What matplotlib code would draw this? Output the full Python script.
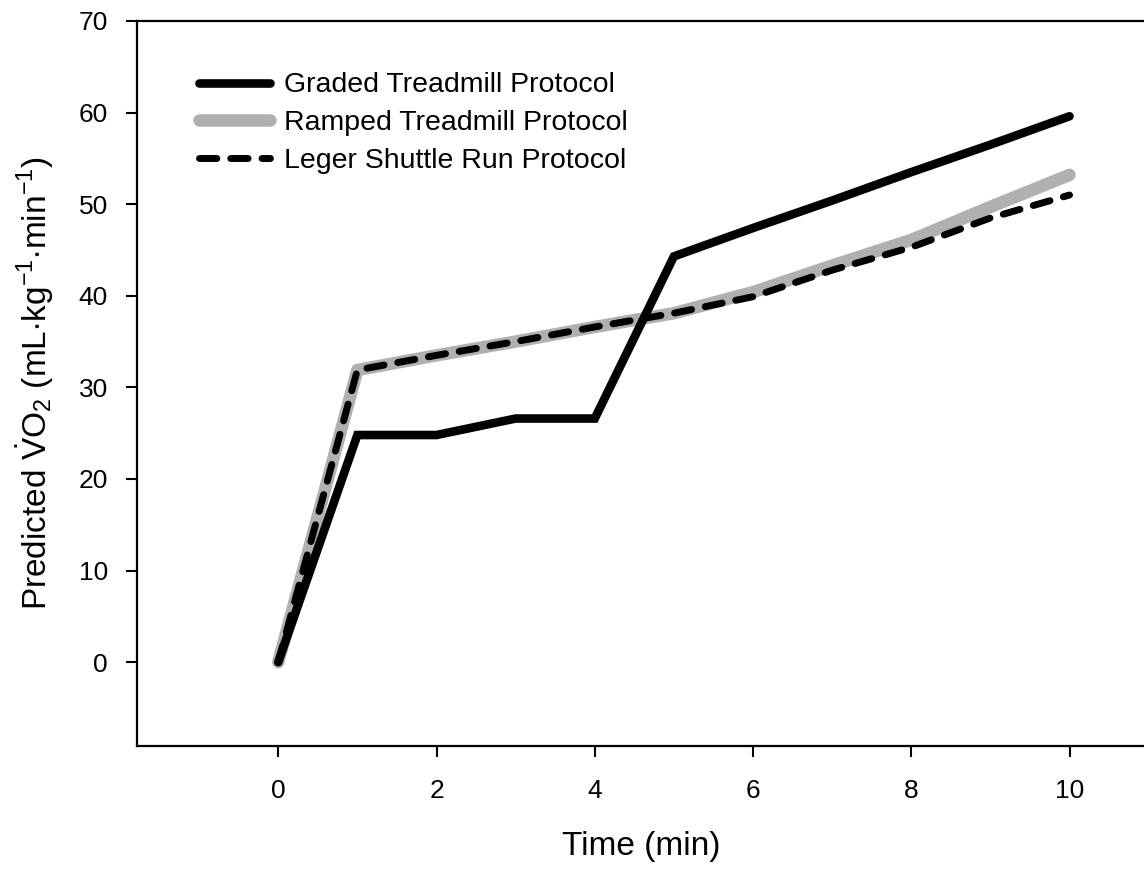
import matplotlib
matplotlib.use("Agg")
import matplotlib.pyplot as plt

plt.rcParams['font.family'] = ['Liberation Sans', 'DejaVu Sans']
plt.rcParams['mathtext.fontset'] = 'custom'
plt.rcParams['mathtext.rm'] = 'Liberation Sans'
plt.rcParams['mathtext.it'] = 'Liberation Sans:italic'

time_min = [0, 1, 2, 3, 4, 5, 6, 7, 8, 9, 10]
graded = [0, 24.8, 24.8, 26.6, 26.6, 44.3, 47.4, 50.4, 53.5, 56.5, 59.6]
ramped = [0, 31.9, 33.5, 35.0, 36.6, 38.1, 40.4, 43.3, 46.1, 49.7, 53.2]
leger = [0, 31.9, 33.5, 35.0, 36.6, 38.1, 39.9, 42.8, 45.3, 48.5, 51.0]

xticks = [0, 2, 4, 6, 8, 10]
yticks = [0, 10, 20, 30, 40, 50, 60, 70]

fig = plt.figure(figsize=(11.44, 8.73), dpi=100)
ax = fig.add_axes([137/1144, 1 - 746/873, 1 - 137/1144 + 0.002, (746 - 21)/873])

ax.plot(time_min, graded, color='black', lw=6.2, solid_capstyle='round',
        solid_joinstyle='miter', label='Graded Treadmill Protocol', zorder=3)
ax.plot(time_min, ramped, color='#b0b0b0', lw=9, solid_capstyle='round',
        solid_joinstyle='round', label='Ramped Treadmill Protocol', zorder=2)
ax.plot(time_min, leger, color='black', lw=5, dashes=(2.5, 2.0),
        dash_capstyle='round', dash_joinstyle='round',
        label='Leger Shuttle Run Protocol', zorder=4)

ax.set_xlim(-1.785, 10.97)
ax.set_ylim(-9.15, 70)
ax.set_xticks(xticks)
ax.set_yticks(yticks)
ax.tick_params(direction='out', length=8, width=1.5, labelsize=19)
ax.tick_params(axis='y', pad=13)
ax.tick_params(axis='x', pad=16)
for s in ['left', 'bottom', 'top']:
    ax.spines[s].set_linewidth(1.6)
ax.spines['right'].set_visible(False)

ax.set_xlabel('Time (min)', fontsize=24, labelpad=20)
ax.set_ylabel(r'Predicted $\dot{\mathrm{V}}$O$_2$ (mL$\cdot$kg$^{-1}$$\cdot$min$^{-1}$)',
              fontsize=24, labelpad=16)

leg = ax.legend(loc='upper left', bbox_to_anchor=(0.061, 0.929), frameon=False,
                fontsize=20.5, handlelength=2.5, handletextpad=0.5,
                labelspacing=0.42, borderaxespad=0, borderpad=0)

fig.savefig('out.png', dpi=100)
